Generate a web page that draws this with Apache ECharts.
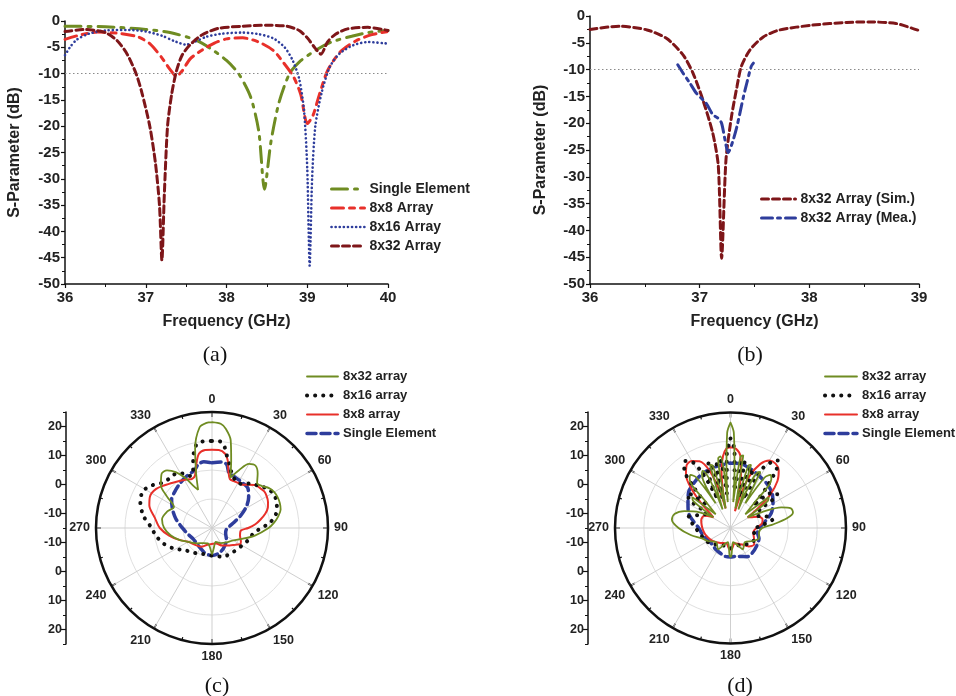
<!DOCTYPE html>
<html><head><meta charset="utf-8">
<script src="https://cdn.jsdelivr.net/npm/echarts@6/dist/echarts.min.js"></script>
<style>html,body{margin:0;padding:0;background:#fff}#c{width:956px;height:696px}</style>
</head><body><div id="c"></div>
<script>
// ---------- (a) S-parameters ----------
const freqSingle = [36,36.5,37,37.3,37.6,37.8,38.0,38.15,38.3,38.4,38.47,38.55,38.65,38.78,38.9,39.1,39.3,39.55,39.75,40];
const sSingle    = [-1.0,-1.1,-1.6,-2.2,-3.5,-5.2,-7.5,-10,-14.5,-21,-32,-23,-15.5,-10,-7.8,-5.6,-4.0,-2.9,-2.2,-1.8];
const freq8x8 = [36,36.2,36.4,36.7,36.9,37.05,37.2,37.3,37.38,37.45,37.55,37.7,37.85,38.0,38.2,38.4,38.58,38.7,38.83,38.92,39.0,39.07,39.15,39.25,39.4,39.6,39.8,40];
const s8x8    = [-3.5,-2.6,-2.1,-2.4,-3.0,-4.3,-7.0,-9.2,-10.5,-9.5,-7.2,-5.5,-4.2,-3.4,-3.2,-4.0,-5.6,-7.8,-10.6,-14,-19.5,-18,-14,-9.5,-6,-3.8,-2.6,-2.0];
const freq8x16 = [36,36.07,36.15,36.3,36.5,36.8,37.0,37.2,37.35,37.5,37.6,37.75,37.95,38.2,38.4,38.58,38.72,38.82,38.9,38.96,39.0,39.03,39.06,39.1,39.18,39.28,39.4,39.57,39.75,40];
const s8x16    = [-6.5,-4.8,-3.5,-2.4,-1.8,-1.7,-2.0,-2.8,-3.8,-4.5,-4.0,-3.0,-2.4,-2.2,-2.5,-3.3,-5.0,-7.5,-11,-17,-28,-46.5,-30,-20,-13.5,-8.7,-6.2,-4.6,-4.0,-4.3];
const freq8x32 = [36,36.25,36.5,36.65,36.77,36.88,36.95,37.05,37.12,37.17,37.2,37.23,37.27,37.32,37.38,37.45,37.55,37.7,37.9,38.2,38.5,38.75,38.9,39.0,39.1,39.17,39.25,39.35,39.5,39.75,40];
const s8x32    = [-2.0,-1.6,-2.2,-3.8,-6.3,-10,-13.5,-20,-27,-35,-45.5,-33,-20,-14,-9.5,-6.5,-4.5,-2.6,-1.4,-1.0,-0.8,-1.0,-1.8,-3.2,-5.2,-6.3,-4.0,-2.5,-1.5,-1.2,-1.8];
const thresholdDb = -10;

// ---------- (b) Sim vs Mea ----------
const freqSim = [36,36.27,36.52,36.7,36.85,36.94,37.03,37.12,37.17,37.2,37.24,37.29,37.34,37.38,37.46,37.58,37.73,38.03,38.34,38.55,38.79,38.94,39];
const sSim    = [-2.5,-1.9,-2.6,-4.2,-7.3,-10.7,-15.7,-21.9,-28,-45.2,-26.8,-18.8,-13.2,-9.4,-6.3,-3.9,-2.6,-1.7,-1.2,-1.1,-1.4,-2.3,-2.7];
const freqMea = [36.8,36.85,36.91,36.97,37.06,37.12,37.17,37.2,37.23,37.26,37.3,37.34,37.4,37.43,37.47,37.49];
const sMea    = [-9.1,-10.7,-12.5,-14.4,-16.3,-18.4,-19.1,-20,-23,-25.5,-23.5,-20.6,-15,-12.5,-9.4,-8.8];

// ---------- (c) radiation patterns ----------
const cAngG = [0,5,8,12,16,20,25,30,35,40,45,50,55,60,65,70,75,80,85,90,100,110,120,135,150,165,175,180,185,195,210,225,240,250,260,270,280,290,299,305,310,317,322,327,332,336,340,344,348,353,357,360];
const cValG = [21.5,21,19.5,16,9,3.5,7,10.5,11.2,9.5,7,7.5,9,9.8,10,9.9,9.5,8.2,6.5,4.5,0,-4,-6.5,-8,-9,-10,-8,-6,-8,-9.5,-9,-7.5,-5.5,-3,-0.5,1.5,2.5,1.5,0,4,8,10.5,10.2,8,4.5,1,-1,5,13,20,21.3,21.5];
const cAngK = [0,5,8,11,15,20,25,30,35,40,47,55,62,70,78,85,90,95,100,110,120,140,160,180,200,215,230,242,252,262,270,280,290,298,305,313,320,327,333,337,341,345,349,353,360];
const cValK = [15,15,14,11,8,5,3.5,3,3.5,5,6.5,8.5,9.3,8.8,7.5,5,2,0,-1,-2,-3,-4,-4.5,-5.5,-5.5,-4.5,-3,0,2.5,4.5,5.8,9,11.3,12,10.5,8,7.5,7.4,6,4.5,5,10,14,15,15];
const cAngR = [0,5,10,13,16,20,25,30,35,40,45,50,55,60,65,70,75,80,85,90,95,105,115,120,125,135,150,165,180,195,210,225,240,250,260,270,280,290,297,305,312,320,327,333,338,342,346,350,355,360];
const cValR = [12,12,11,9,5.5,3,2.8,3,3.2,4.5,6,6.5,7,6.8,6.3,5.5,4,2,0,-2.5,-5,-5,-4,-3.8,-5,-6.5,-8,-9.5,-9.5,-9,-7.5,-6.8,-5.5,-3,0,3,5,8,9,8.5,7,5.5,4.5,3.8,3.3,4,7.5,11,12,12];
const cAngB = [0,8,13,17,25,35,42,50,58,66,75,85,95,110,130,150,165,180,195,210,225,240,255,265,275,285,295,305,315,325,335,343,348,353,360];
const cValB = [7.5,8,7.5,5,4.2,3.8,3.5,1.5,-1,-4,-7,-9,-10,-10,-8.5,-7,-6,-5.5,-6,-7,-7.5,-7.5,-6.5,-5.5,-4,-2,0,2,3,4,5,5.8,7.5,8,7.5];

// ---------- (d) radiation patterns ----------
const dAngG = [0,2,4,6,8,10,12,14,16,18,20,23,26,28,31,34,37,40,43,47,51,54,58,63,68,72,76,80,85,90,100,110,120,135,150,160,170,178,180,182,190,200,210,225,240,250,260,270,278,284,290,297,302,306,309,313,317,320,323,326,329,332,334,337,340,342,344,346,348,350,352,354,356,358,360];
const dValG = [21.5,18,5,-6,10,10.5,-4,-8,7.5,8,-3,-8,6.5,7,-5,6,8,7,-2,-8,2,1,-8,-3,4,7,7.3,5,0,-4,-5,-4.5,-6,-8,-6.5,-9,-10,-5.5,-5,-5.5,-10,-9,-6.5,-8,-6,-4.5,-1,3,5.5,5,2,-3,-8,1,2,-8,-2,7,8,6,-5,6,7,-8,-3,8,7.5,-8,-4,9.5,10,-6,5,18,21.5];
const dAngK = [0,3,6,9,12,15,18,21,24,28,32,35,38,42,46,50,54,58,65,72,78,85,95,110,125,140,160,180,200,220,235,250,262,275,285,292,300,306,310,314,318,322,326,329,333,336,339,342,345,348,351,354,357,360];
const dValK = [16,12,-2,8,9,-4,6,7,-4,8,12,13.5,11,3,-4,4,5,-3,-5,-2,0,-4,-7,-6,-6,-7.5,-8.5,-8,-8.5,-7.5,-6,-5,-4,-2,0,-3,-5,3,4,-4,4,11,13,12,6,-4,7,9,-4,8,9,-3,10,16];
const dAngR = [0,4,8,11,13,15,17,20,25,30,35,40,45,50,54,58,62,68,75,82,90,100,115,125,135,145,155,165,175,180,185,195,210,225,240,255,265,275,285,295,302,306,310,315,320,325,330,335,340,344,346,348,351,354,357,360];
const dValR = [13,12.5,10,4,-4,-9,-3,4,9.5,12,12.2,11,8,3,-3,-8,-7,-4.5,-3.5,-4,-6,-7,-6,-5,-6,-8,-9,-9.5,-8,-7.5,-8,-9.5,-9,-8,-7,-6,-5.5,-5,-4.5,-5,-8,-6,-2,4,9,11.5,11.8,10.5,6,-2,-8,-3,5,10,12.5,13];
const dAngB = [0,10,20,30,40,50,60,70,80,90,100,110,125,140,150,160,170,180,190,200,215,230,245,258,270,280,290,300,310,320,330,340,350,360];
const dValB = [7.5,7.5,6.5,5.5,4.8,3.8,2,0,-3,-5,-5.5,-4.5,-4,-3.5,-3.5,-4.5,-5,-5,-5,-5.5,-6,-6.5,-6,-5,-4,-2,0.5,2,4,5,6,6.5,7,7.5];

// side (mirrored) radial scale labels, dB
const sideTicksDb = [20,10,0,-10];
const polarMinDb = -15, polarMaxDb = 25;

// ---------- styling ----------
const FONT = 'Liberation Sans, Arial, sans-serif';
const GREEN='#6f8c22', RED='#e8302a', BLUE='#2e3d9c', MAROON='#7e1619', BLACK='#111111';
const strip = n => n.split('|')[1];
const xy = (xs, ys) => xs.map((x,i)=>[x, ys[i]]);
const pol = (angs, vals) => angs.map((a,i)=>[vals[i], a]);

const span = polarMaxDb - polarMinDb; // 40
const sideMajor = [];
sideTicksDb.forEach(d => { sideMajor.push(d - polarMinDb); sideMajor.push(-(d - polarMinDb)); });
const sideMinor = [];
for (let v = -span; v <= span; v += 10) sideMinor.push(v);

function cartX(idx, max, name) {
  return {gridIndex: idx, type:'value', min:36, max:max, interval:1,
    name: name, nameLocation:'middle', nameGap:30,
    nameTextStyle:{fontFamily:FONT, fontWeight:'bold', fontSize:16, color:'#222'},
    axisLine:{show:true, onZero:false, lineStyle:{color:BLACK, width:1.5}},
    axisTick:{show:true, length:4, lineStyle:{color:BLACK, width:1.2}},
    minorTick:{show:true, splitNumber:2, length:3, lineStyle:{color:BLACK, width:1}},
    axisLabel:{fontFamily:FONT, fontWeight:'bold', fontSize:15, color:'#222', margin:6},
    splitLine:{show:false}};
}
function cartY(idx, gap) {
  return {gridIndex: idx, type:'value', min:-50, max:0, interval:5,
    name:'S-Parameter (dB)', nameLocation:'middle', nameGap:gap, nameRotate:90,
    nameTextStyle:{fontFamily:FONT, fontWeight:'bold', fontSize:16, color:'#222'},
    axisLine:{show:true, onZero:false, lineStyle:{color:BLACK, width:1.5}},
    axisTick:{show:true, length:4, lineStyle:{color:BLACK, width:1.2}},
    minorTick:{show:true, splitNumber:2, length:3, lineStyle:{color:BLACK, width:1}},
    axisLabel:{fontFamily:FONT, fontWeight:'bold', fontSize:15, color:'#222', margin:5},
    splitLine:{show:false}};
}
function sideY(idx) {
  return [{gridIndex: idx, type:'value', min:-span, max:span, position:'left',
      axisLine:{show:true, lineStyle:{color:BLACK, width:1.5}},
      axisTick:{show:true, customValues:sideMajor, length:5, lineStyle:{color:BLACK, width:1.2}},
      axisLabel:{show:true, customValues:sideMajor, formatter: v => String(Math.abs(v) + polarMinDb),
        fontFamily:FONT, fontWeight:'bold', fontSize:12.5, color:'#222', margin:4},
      splitLine:{show:false}},
    {gridIndex: idx, type:'value', min:-span, max:span, position:'left',
      axisLine:{show:false},
      axisTick:{show:true, customValues:sideMinor, length:3, lineStyle:{color:BLACK, width:1}},
      axisLabel:{show:false}, splitLine:{show:false}}];
}
function angleAx(pi) {
  return {polarIndex: pi, type:'value', min:0, max:360, interval:30, startAngle:90, clockwise:true,
    axisLine:{show:true, lineStyle:{color:BLACK, width:2.5}},
    axisTick:{show:true, inside:true, length:5, lineStyle:{color:BLACK, width:1.5}},
    minorTick:{show:true, splitNumber:2, length:3, lineStyle:{color:BLACK, width:1.2}},
    axisLabel:{fontFamily:FONT, fontWeight:'bold', fontSize:12.5, color:'#222', margin:6,
      formatter: v => (v === 360 ? '' : String(v))},
    splitLine:{show:true, lineStyle:{color:'#cfcfcf', width:1}}};
}
function radiusAx(pi) {
  return {polarIndex: pi, type:'value', min:polarMinDb, max:polarMaxDb, interval:10,
    axisLine:{show:false}, axisTick:{show:false}, axisLabel:{show:false},
    splitLine:{show:true, lineStyle:{color:'#e0e0e0', width:1}}};
}
function lineS(name, xi, data, color, width, type, extra) {
  return Object.assign({name, type:'line', xAxisIndex:xi, yAxisIndex:xi, data, symbol:'none', showSymbol:false,
    smooth:0.25, itemStyle:{color}, lineStyle:{color, width, type, cap:'round'}, z:3}, extra || {});
}
function polS(name, pi, data, color, width, type, smooth) {
  return {name, type:'line', coordinateSystem:'polar', polarIndex:pi, data, symbol:'none', showSymbol:false,
    smooth: smooth, itemStyle:{color}, lineStyle:{color, width, type, cap:'round'}};
}
const thresholdLine = {silent:true, symbol:['none','none'], label:{show:false},
  lineStyle:{color:'#8a8a8a', width:1, type:[1.5,2.5]}, data:[{yAxis: thresholdDb}]};

const DOT_A = [0.1, 4];
const DOT_P = [0.1, 8];

const option = {
  animation:false,
  backgroundColor:'#ffffff',
  title:[
    {text:'(a)', left:210, top:339, textAlign:'center', textStyle:{fontFamily:'Liberation Serif, Times New Roman, serif', fontWeight:'normal', fontSize:22, color:'#111'}},
    {text:'(b)', left:745, top:339, textAlign:'center', textStyle:{fontFamily:'Liberation Serif, Times New Roman, serif', fontWeight:'normal', fontSize:22, color:'#111'}},
    {text:'(c)', left:212, top:670, textAlign:'center', textStyle:{fontFamily:'Liberation Serif, Times New Roman, serif', fontWeight:'normal', fontSize:22, color:'#111'}},
    {text:'(d)', left:735, top:670, textAlign:'center', textStyle:{fontFamily:'Liberation Serif, Times New Roman, serif', fontWeight:'normal', fontSize:22, color:'#111'}}
  ],
  grid:[
    {left:65, top:21, width:323, height:263, outerBoundsMode:'none'},
    {left:590, top:16, width:329, height:268, outerBoundsMode:'none'},
    {left:66, top:412, width:1, height:232, outerBoundsMode:'none'},
    {left:588, top:412, width:1, height:232, outerBoundsMode:'none'}
  ],
  xAxis:[
    cartX(0, 40, 'Frequency (GHz)'),
    cartX(1, 39, 'Frequency (GHz)'),
    {gridIndex:2, type:'value', min:0, max:1, show:false},
    {gridIndex:3, type:'value', min:0, max:1, show:false}
  ],
  yAxis:[cartY(0, 42), cartY(1, 41)].concat(sideY(2), sideY(3)),
  polar:[{center:[212,528], radius:116}, {center:[730.5,528], radius:115.5}],
  angleAxis:[angleAx(0), angleAx(1)],
  radiusAxis:[radiusAx(0), radiusAx(1)],
  legend:[
    {data:['a|Single Element','a|8x8 Array','a|8x16 Array','a|8x32 Array'], orient:'vertical', left:325, top:177,
      itemWidth:33, itemHeight:10, itemGap:5, formatter:strip, selectedMode:false,
      itemStyle:{opacity:0}, lineStyle:{width:'inherit'},
      textStyle:{fontFamily:FONT, fontWeight:'bold', fontSize:14, color:'#222'}},
    {data:['b|8x32 Array (Sim.)','b|8x32 Array (Mea.)'], orient:'vertical', left:755, top:187,
      itemWidth:34, itemHeight:10, itemGap:5, formatter:strip, selectedMode:false,
      itemStyle:{opacity:0}, lineStyle:{width:'inherit'},
      textStyle:{fontFamily:FONT, fontWeight:'bold', fontSize:14, color:'#222'}},
    {data:['c|8x32 array','c|8x16 array','c|8x8 array','c|Single Element'], orient:'vertical', left:300, top:365,
      itemWidth:31, itemHeight:10, itemGap:6, formatter:strip, selectedMode:false,
      itemStyle:{opacity:0}, lineStyle:{width:'inherit'},
      textStyle:{fontFamily:FONT, fontWeight:'bold', fontSize:13, color:'#222'}},
    {data:['d|8x32 array','d|8x16 array','d|8x8 array','d|Single Element'], orient:'vertical', left:818, top:365,
      itemWidth:32, itemHeight:10, itemGap:6, formatter:strip, selectedMode:false,
      itemStyle:{opacity:0}, lineStyle:{width:'inherit'},
      textStyle:{fontFamily:FONT, fontWeight:'bold', fontSize:13, color:'#222'}}
  ],
  series:[
    lineS('a|Single Element', 0, xy(freqSingle, sSingle), GREEN, 3, [16,7,3,7]),
    lineS('a|8x8 Array', 0, xy(freq8x8, s8x8), RED, 3, [12,6,5,6]),
    lineS('a|8x16 Array', 0, xy(freq8x16, s8x16), BLUE, 2.6, DOT_A),
    lineS('a|8x32 Array', 0, xy(freq8x32, s8x32), MAROON, 3, [7,4], {markLine: thresholdLine}),
    lineS('b|8x32 Array (Sim.)', 1, xy(freqSim, sSim), MAROON, 3, [7,4], {markLine: thresholdLine}),
    lineS('b|8x32 Array (Mea.)', 1, xy(freqMea, sMea), BLUE, 3, [11,5,3,5]),
    polS('c|Single Element', 0, pol(cAngB, cValB), BLUE, 3.5, [9,5], 0.3),
    polS('c|8x8 array', 0, pol(cAngR, cValR), RED, 2, 'solid', 0.3),
    polS('c|8x16 array', 0, pol(cAngK, cValK), BLACK, 4, DOT_P, 0.3),
    polS('c|8x32 array', 0, pol(cAngG, cValG), GREEN, 1.8, 'solid', 0.3),
    polS('d|Single Element', 1, pol(dAngB, dValB), BLUE, 3.5, [9,5], 0.3),
    polS('d|8x8 array', 1, pol(dAngR, dValR), RED, 2, 'solid', 0.3),
    polS('d|8x16 array', 1, pol(dAngK, dValK), BLACK, 4, DOT_P, 0.3),
    polS('d|8x32 array', 1, pol(dAngG, dValG), GREEN, 1.8, 'solid', 0.3)
  ]
};
const chart = echarts.init(document.getElementById('c'), null, {renderer:'canvas'});
chart.setOption(option);
</script></body></html>
